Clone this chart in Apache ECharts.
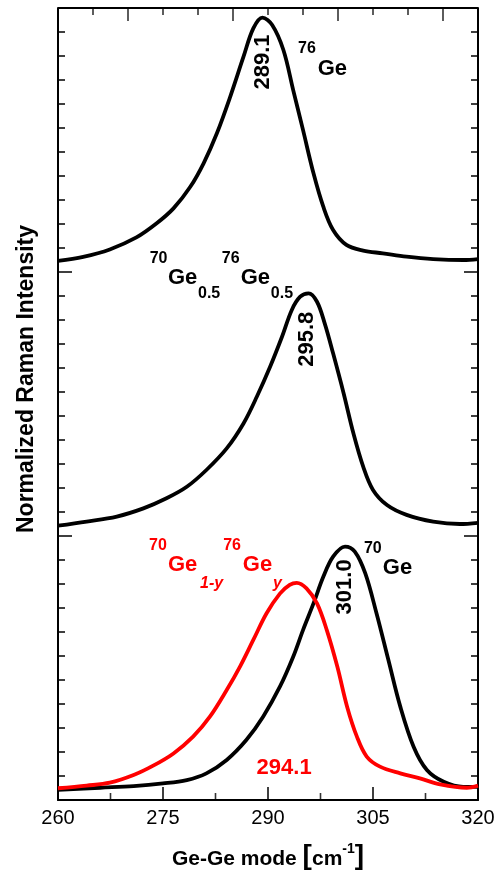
<!DOCTYPE html>
<html>
<head>
<meta charset="utf-8">
<script src="https://cdn.jsdelivr.net/npm/echarts@6/dist/echarts.min.js"></script>
<style>
  html, body { margin: 0; padding: 0; background: #fff; }
  #chart { width: 502px; height: 880px; }
</style>
</head>
<body>
<div id="chart"></div>
<script>
// spectra, intensity relative to the bottom of each panel
var xTop = [260.0, 263.6, 267.4, 271.2, 274.1, 276.5, 278.9, 280.8, 282.7, 284.6, 286.5, 287.9, 289.2, 290.6, 292.2, 293.6, 295.0, 296.5, 297.9, 299.3, 301.2, 303.6, 306.4, 309.8, 313.6, 317.9, 320.0];
var ge76 = [0.46, 0.63, 0.94, 1.44, 2.03, 2.65, 3.55, 4.53, 5.78, 7.30, 8.97, 10.15, 10.6, 10.29, 9.25, 7.58, 5.92, 4.11, 2.72, 1.75, 1.13, 0.89, 0.78, 0.64, 0.54, 0.50, 0.54];

var xMid = [260.0, 264.1, 268.4, 272.2, 275.5, 278.4, 281.2, 284.1, 286.5, 288.4, 290.3, 292.0, 293.4, 294.6, 295.8, 297.0, 298.1, 299.3, 300.8, 302.2, 303.6, 305.0, 307.0, 309.8, 313.6, 317.4, 320.0];
var geMix = [0.43, 0.60, 0.81, 1.15, 1.57, 2.05, 2.75, 3.65, 4.69, 5.80, 7.05, 8.30, 9.42, 9.97, 10.11, 9.76, 8.86, 7.61, 5.95, 4.28, 2.89, 1.92, 1.29, 0.88, 0.60, 0.50, 0.55];

var xBot = [260.0, 266.0, 270.8, 275.0, 278.4, 281.2, 284.1, 286.9, 289.3, 291.7, 293.6, 295.0, 296.5, 297.9, 299.3, 301.0, 302.4, 303.9, 305.5, 307.2, 308.9, 310.8, 312.7, 315.1, 317.9, 320.0];
var ge70 = [0.42, 0.51, 0.58, 0.69, 0.83, 1.11, 1.67, 2.5, 3.47, 4.72, 5.97, 7.08, 8.19, 9.30, 10.14, 10.56, 10.35, 9.44, 7.78, 5.83, 3.89, 2.22, 1.25, 0.76, 0.55, 0.55];

var xRed = [260.0, 264.1, 267.4, 270.8, 273.6, 276.5, 279.3, 281.7, 284.1, 286.0, 287.9, 289.8, 291.7, 293.1, 294.1, 295.5, 297.0, 298.4, 299.9, 301.3, 302.7, 304.1, 306.0, 308.9, 311.7, 314.6, 318.4, 320.0];
var geY = [0.49, 0.60, 0.72, 1.04, 1.43, 1.94, 2.64, 3.47, 4.58, 5.56, 6.67, 7.78, 8.6, 8.96, 9.05, 8.82, 8.19, 7.08, 5.56, 3.89, 2.64, 1.81, 1.39, 1.11, 0.90, 0.65, 0.51, 0.6];

var panelBase = [22, 11, 0];
var xTicks = [260, 275, 290, 305, 320];
var bottomMinor = [267.5, 282.5, 297.5, 312.5];
var topMinor = [265, 275, 280, 290, 295, 305, 310];
var topMajor = [270, 285, 300, 315];

var FONT = '"Liberation Sans", Arial, sans-serif';

function pairs(xs, ys, base) {
  return xs.map(function(x, i) { return [x, ys[i] + base]; });
}

var tickStyle = { color: '#000', width: 1.5 };

// a row of tick marks sitting on a frame edge (edge = y value); dir 1 points down, -1 up
function tickSeries(xs, edge, dir, len) {
  return {
    type: 'scatter', silent: true, clip: false,
    data: xs.map(function(v) { return [v, edge]; }),
    symbol: 'rect', symbolSize: [1.6, len], symbolOffset: [0, dir * len / 2],
    itemStyle: { color: '#000' }, z: 5
  };
}

var chart = echarts.init(document.getElementById('chart'));

var lines = [
  { name: '76Ge', data: pairs(xTop, ge76, panelBase[0]), color: '#000' },
  { name: '70Ge0.5 76Ge0.5', data: pairs(xMid, geMix, panelBase[1]), color: '#000' },
  { name: '70Ge', data: pairs(xBot, ge70, panelBase[2]), color: '#000' },
  { name: '70Ge1-y 76Ge-y', data: pairs(xRed, geY, panelBase[2]), color: '#ff0000' }
].map(function(s) {
  return {
    name: s.name, type: 'line', data: s.data, smooth: 0.35, showSymbol: false,
    clip: true, lineStyle: { color: s.color, width: 3.8 }
  };
});

var option = {
  animation: false,
  grid: { left: 58, right: 24, top: 8, bottom: 80 },
  xAxis: {
    type: 'value', min: 260, max: 320, position: 'bottom',
    axisLine: { show: true, onZero: false, lineStyle: { color: '#000', width: 2 } },
    axisTick: { inside: true, length: 13, customValues: xTicks, lineStyle: tickStyle },
    splitLine: { show: false },
    axisLabel: { fontFamily: FONT, fontSize: 20, color: '#000', margin: 8, customValues: xTicks },
    name: '{a|Ge-Ge mode }{b|[}{a|cm}{s|-1}{b|]}',
    nameLocation: 'middle', nameGap: 42,
    nameTextStyle: {
      rich: {
        a: { fontFamily: FONT, fontSize: 21, fontWeight: 'bold', color: '#000', verticalAlign: 'bottom', lineHeight: 28 },
        b: { fontFamily: FONT, fontSize: 28, fontWeight: 'bold', color: '#000', verticalAlign: 'bottom', lineHeight: 28 },
        s: { fontFamily: FONT, fontSize: 14, fontWeight: 'bold', color: '#000', verticalAlign: 'top', lineHeight: 28 }
      }
    }
  },
  yAxis: [
    {
      type: 'value', min: 0, max: 33, interval: 11, position: 'left',
      axisLine: { show: true, lineStyle: { color: '#000', width: 2 } },
      axisTick: { inside: true, length: 14, lineStyle: tickStyle },
      minorTick: { show: true, splitNumber: 11, length: 7, lineStyle: tickStyle },
      axisLabel: { show: false }, splitLine: { show: false }
    },
    {
      type: 'value', min: 0, max: 33, interval: 11, position: 'right',
      axisLine: { show: true, lineStyle: { color: '#000', width: 2 } },
      axisTick: { inside: true, length: 14, lineStyle: tickStyle },
      minorTick: { show: true, splitNumber: 11, length: 7, lineStyle: tickStyle },
      axisLabel: { show: false }, splitLine: { show: false }
    }
  ],
  series: lines.concat([
    {
      // top border of the frame
      type: 'line', name: 'top', data: [[260, 33], [320, 33]], showSymbol: false,
      clip: false, silent: true, lineStyle: { color: '#000', width: 2 }
    },
    tickSeries(bottomMinor, 0, -1, 7),
    tickSeries(topMinor, 33, 1, 7),
    tickSeries(topMajor, 33, 1, 13)
  ])
};
chart.setOption(option);

// annotations, placed in data coordinates
var labels = [
  { t: '289.1', x: 289.3, y: 30.75, size: 22, rot: true },
  { t: '76', x: 294.3, y: 31.3, size: 16, left: true },
  { t: 'Ge', x: 297.1, y: 30.48, size: 22, left: true },

  { t: '70', x: 273.1, y: 22.54, size: 16, left: true },
  { t: 'Ge', x: 275.7, y: 21.77, size: 22, left: true },
  { t: '0.5', x: 280.0, y: 21.08, size: 16, left: true },
  { t: '76', x: 283.4, y: 22.54, size: 16, left: true },
  { t: 'Ge', x: 286.1, y: 21.77, size: 22, left: true },
  { t: '0.5', x: 290.4, y: 21.08, size: 16, left: true },
  { t: '295.8', x: 295.6, y: 19.2, size: 22, rot: true },

  { t: '70', x: 273.0, y: 10.58, size: 16, left: true, red: true },
  { t: 'Ge', x: 275.7, y: 9.79, size: 22, left: true, red: true },
  { t: '1-y', x: 280.3, y: 9.02, size: 16, left: true, red: true, italic: true },
  { t: '76', x: 283.6, y: 10.58, size: 16, left: true, red: true },
  { t: 'Ge', x: 286.4, y: 9.79, size: 22, left: true, red: true },
  { t: 'y', x: 290.7, y: 9.02, size: 16, left: true, red: true, italic: true },
  { t: '301.0', x: 301.0, y: 8.88, size: 22, rot: true },
  { t: '70', x: 303.7, y: 10.46, size: 16, left: true },
  { t: 'Ge', x: 306.4, y: 9.65, size: 22, left: true },
  { t: '294.1', x: 292.3, y: 1.33, size: 22, red: true }
];

var graphics = labels.map(function(l) {
  var p = chart.convertToPixel({ xAxisIndex: 0, yAxisIndex: 0 }, [l.x, l.y]);
  return {
    type: 'text', x: p[0], y: p[1], rotation: l.rot ? Math.PI / 2 : 0,
    silent: true,
    style: {
      text: l.t,
      font: (l.italic ? 'italic ' : '') + 'bold ' + l.size + 'px ' + FONT,
      fill: l.red ? '#ff0000' : '#000',
      align: l.left ? 'left' : 'center',
      verticalAlign: 'middle'
    }
  };
});

graphics.push({
  type: 'text', x: 27, y: 379, rotation: Math.PI / 2, silent: true,
  style: {
    text: 'Normalized Raman Intensity',
    font: 'bold 23px ' + FONT, fill: '#000',
    align: 'center', verticalAlign: 'middle'
  }
});

chart.setOption({ graphic: graphics });
</script>
</body>
</html>
